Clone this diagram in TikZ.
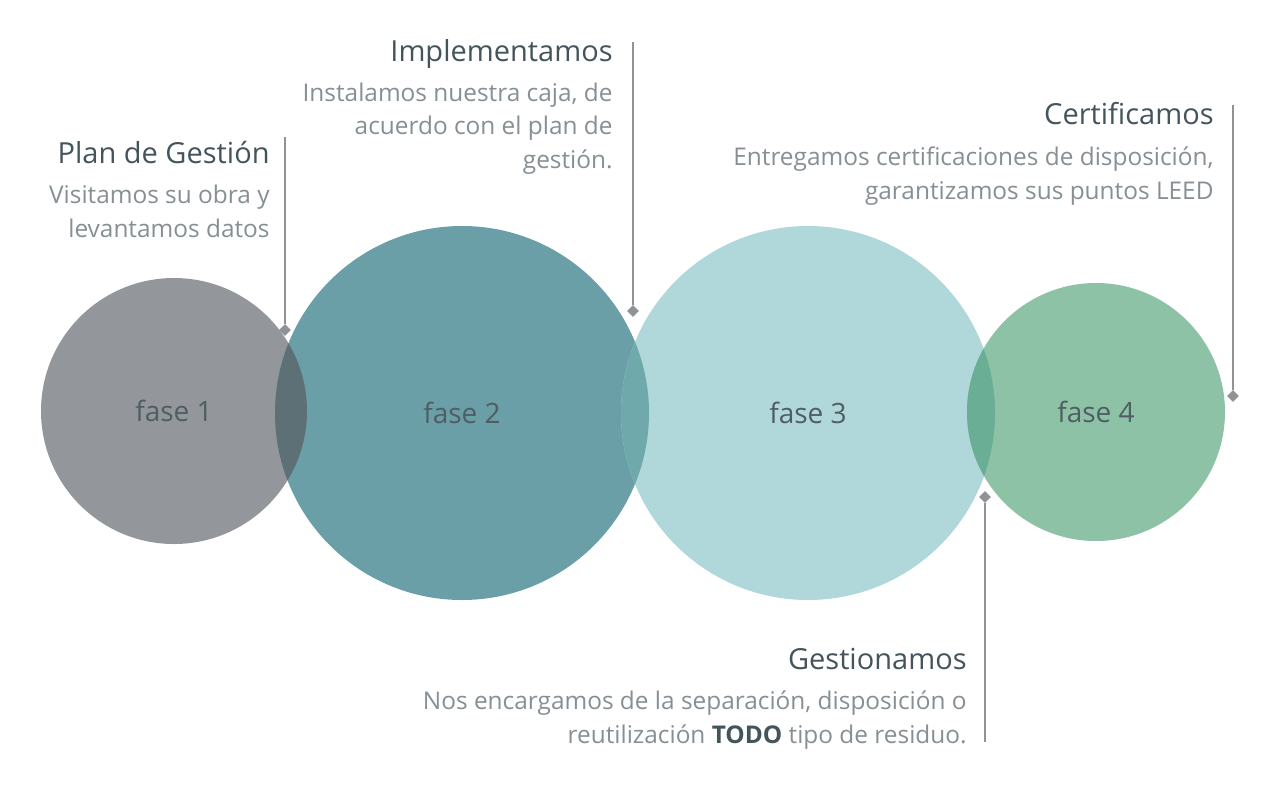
\documentclass[tikz,border=0pt]{standalone}
\usepackage{fontspec}
\setmainfont{Open Sans}
\usetikzlibrary{shapes.geometric}

\definecolor{faseuno}{HTML}{93969A}
\definecolor{fasedos}{HTML}{6A9FA8}
\definecolor{fasetres}{HTML}{B0D7D9}
\definecolor{fasecuatro}{HTML}{8DC2A6}
\definecolor{solapauno}{HTML}{5C7075}
\definecolor{solapados}{HTML}{70A9AC}
\definecolor{solapatres}{HTML}{6AAE95}
\definecolor{tituloGris}{HTML}{44545B}
\definecolor{textoGris}{HTML}{858F94}
\definecolor{faseTexto}{HTML}{4E5E64}
\definecolor{guiaGris}{HTML}{8F9396}

\tikzset{
  fase/.style={circle, inner sep=0pt, text=faseTexto, font=\fontsize{14}{16}\selectfont},
  titulo/.style={anchor=base east, inner sep=0pt, text=tituloGris, font=\fontsize{14.5}{17}\selectfont},
  texto/.style={anchor=base east, inner sep=0pt, align=right, text=textoGris, font=\fontsize{12.2}{16.6}\selectfont},
  guia/.style={draw=guiaGris, line width=0.75pt},
  marca/.style={diamond, fill=guiaGris, inner sep=0pt, minimum size=6pt}
}

\begin{document}
\begin{tikzpicture}[x=0.5pt,y=-0.5pt]
\useasboundingbox (0,0) rectangle (1280,800);

\node[fase, fill=faseuno, minimum size=133pt] (f1) at (174,411) {fase 1};
\node[fase, fill=fasedos, minimum size=187pt] (f2) at (462,413) {fase 2};
\node[fase, fill=fasetres, minimum size=187pt] (f3) at (808,413) {fase 3};
\node[fase, fill=fasecuatro, minimum size=129pt] (f4) at (1096,412) {fase 4};

% solapes
\begin{scope}
\clip (f1.center) circle[radius=66.5pt];
\fill[solapauno] (f2.center) circle[radius=93.5pt];
\end{scope}
\begin{scope}
\clip (f2.center) circle[radius=93.5pt];
\fill[solapados] (f3.center) circle[radius=93.5pt];
\end{scope}
\begin{scope}
\clip (f3.center) circle[radius=93.5pt];
\fill[solapatres] (f4.center) circle[radius=64.5pt];
\end{scope}

% guias
\coordinate (g1) at (285,137);
\node[marca] (m1) at (285,330) {};
\draw[guia] (g1) -- (m1);

\coordinate (g2) at (633,42);
\node[marca] (m2) at (633,311) {};
\draw[guia] (g2) -- (m2);

\node[marca] (m3) at (985,497) {};
\coordinate (g3) at (985,742);
\draw[guia] (m3) -- (g3);

\coordinate (g4) at (1233,105);
\node[marca] (m4) at (1233,396) {};
\draw[guia] (g4) -- (m4);

% textos
\node[titulo] (plan) at (270,163) {Plan de Gestión};
\node[texto] (plantxt) at (270,237) {Visitamos su obra y\\levantamos datos};

\node[titulo] (impl) at (613,61) {Implementamos};
\node[texto] (impltxt) at (613,168) {Instalamos nuestra caja, de\\acuerdo con el plan de\\gestión.};

\node[titulo] (gest) at (967,669) {Gestionamos};
\node[texto] (gesttxt) at (967,743) {Nos encargamos de la separación, disposición o\\reutilización {\color{tituloGris}\textbf{TODO}} tipo de residuo.};

\node[titulo] (cert) at (1214,124) {Certificamos};
\node[texto] (certtxt) at (1214,199) {Entregamos certificaciones de disposición,\\garantizamos sus puntos LEED};

\end{tikzpicture}
\end{document}
